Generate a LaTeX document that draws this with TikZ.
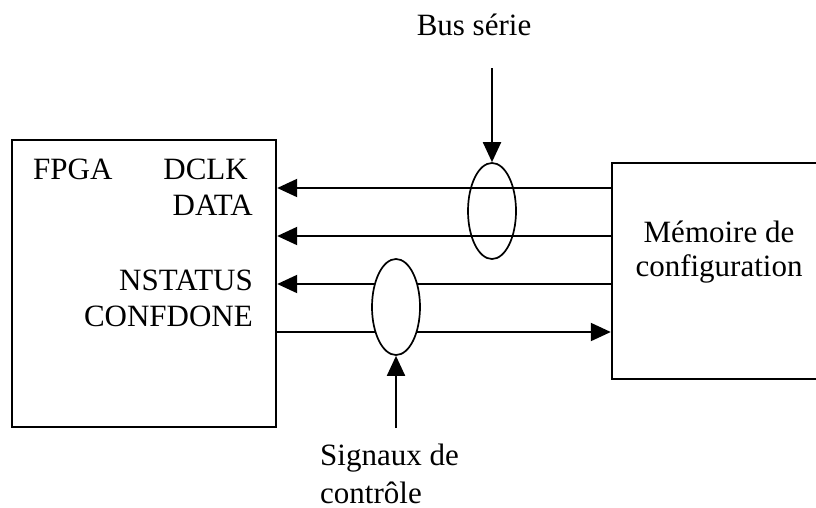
\documentclass[tikz,border=0pt]{standalone}
\usepackage{fontspec}
\setmainfont{Liberation Serif}
\usetikzlibrary{arrows.meta,shapes.geometric,positioning}

\begin{document}
\begin{tikzpicture}[x=1pt,y=-1pt,
  box/.style={draw,line width=2.4pt,inner sep=0pt},
  txt/.style={inner sep=0pt,font=\fontsize{31}{35}\selectfont},
  sig/.style={line width=2pt,-{Triangle[length=20pt,width=18pt]}},
  loop/.style={draw,ellipse,line width=1.7pt,minimum width=48pt,minimum height=96pt,inner sep=0pt}]

\useasboundingbox (0,0) rectangle (816,507);

% boxes
\node[box,minimum width=264pt,minimum height=287pt] (fpga) at (144,283.5) {};
\node[box,minimum width=214pt,minimum height=216pt] (mem) at (719,271) {};

% labels in the boxes
\node[txt,anchor=base west] (fpganame) at (33,179) {FPGA};
\node[txt,anchor=base east] (dclk) at (248,179) {DCLK};
\node[txt,anchor=base east] (data) at (253,215) {DATA};
\node[txt,anchor=base east] (nstatus) at (253,290) {NSTATUS};
\node[txt,anchor=base east] (confdone) at (253,326) {CONFDONE};
\node[txt,anchor=base] (memname) at (719,242) {Mémoire de};
\node[txt,anchor=base] (memname2) at (719,276) {configuration};

% serial bus
\draw[sig] (mem.west |- 0,188) -- (fpga.east |- 0,188);
\draw[sig] (mem.west |- 0,236) -- (fpga.east |- 0,236);
\node[loop] (bus) at (492,211) {};
\node[txt,anchor=base] (busname) at (474,35) {Bus série};
\coordinate (busin) at (492,68);
\draw[sig] (busin) -- (bus.north);

% control signals
\draw[sig] (mem.west |- 0,284) -- (fpga.east |- 0,284);
\draw[sig] (fpga.east |- 0,332) -- (mem.west |- 0,332);
\node[loop,fill=white] (ctl) at (396,307) {};
\node[txt,anchor=base west] (ctlname) at (320,465) {Signaux de};
\node[txt,anchor=base west] (ctlname2) at (320,503) {contrôle};
\coordinate (ctlin) at (396,428);
\draw[sig] (ctlin) -- (ctl.south);

\end{tikzpicture}
\end{document}
